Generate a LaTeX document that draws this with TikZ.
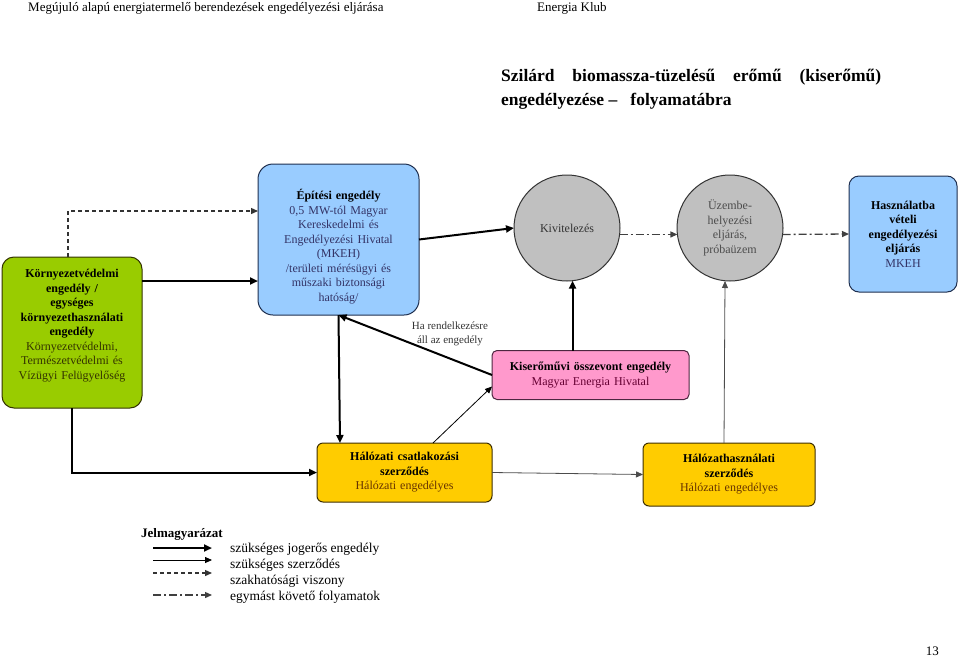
\documentclass[tikz,border=0pt]{standalone}
\usepackage{fontspec}
\setmainfont{Liberation Serif}
\usetikzlibrary{arrows.meta,positioning,calc}

\definecolor{envgreen}{HTML}{99CC00}
\definecolor{envtext}{HTML}{333300}
\definecolor{hatblue}{HTML}{99CCFF}
\definecolor{hattext}{HTML}{333366}
\definecolor{hatline}{HTML}{1F2F4F}
\definecolor{kivgray}{HTML}{C0C0C0}
\definecolor{mehpink}{HTML}{FF99CC}
\definecolor{mehtext}{HTML}{660033}
\definecolor{mehline}{HTML}{4D2640}
\definecolor{halyellow}{HTML}{FFCC00}
\definecolor{haltext}{HTML}{663300}
\definecolor{halline}{HTML}{3D2E00}

\tikzset{
  box/.style={draw, line width=1pt, align=center, inner sep=2pt, outer sep=0pt,
    font=\fontsize{12}{14.5}\selectfont},
  lepes/.style={circle, draw=black!80, line width=1pt, fill=kivgray, align=center,
    inner sep=0pt, outer sep=0pt, minimum size=106pt,
    font=\fontsize{12}{14.5}\selectfont},
  jog/.style={line width=2pt, -{Triangle[length=8pt,width=7pt]}},
  szerz/.style={line width=0.8pt, -{Triangle[length=7pt,width=6pt]}},
  szak/.style={line width=1.3pt, black!80, dash pattern=on 4pt off 3pt,
    -{Triangle[length=7pt,width=6pt]}},
  kovet/.style={line width=1.3pt, black!75, dash pattern=on 8pt off 3pt on 2pt off 3pt,
    -{Triangle[length=7pt,width=6pt]}}
}

\begin{document}
\begin{tikzpicture}[x=1pt, y=-1pt]
    \useasboundingbox (0,0) rectangle (960,656);

    % Header and title
    \node[anchor=base west, font=\fontsize{13}{14}\selectfont, inner sep=0pt] (head) at (28,11)
        {Megújuló alapú energiatermelő berendezések engedélyezési eljárása};
    \node[anchor=base west, font=\fontsize{13}{14}\selectfont, inner sep=0pt] (klub) at (537,11)
        {Energia Klub};
    \node[anchor=base west, font=\fontsize{17.5}{24}\selectfont\bfseries, align=left, inner sep=0pt] (title) at (501,105)
        {\hbox to 380pt{Szilárd\hfill biomassza-tüzelésű\hfill erőmű\hfill (kiserőmű)}\\
         engedélyezése –\ \ \ folyamatábra};

    % Environmental permit (green box on the left)
    \node[box, draw=envtext, fill=envgreen, rounded corners=12pt, text width=134pt,
          minimum width=140pt, minimum height=151pt] (korny) at (72,332.5)
        {\textbf{Környezetvédelmi\\engedély /\\egységes\\környezethasználati\\engedély}\\
         {\color{envtext}Környezetvédelmi,\\Természetvédelmi és\\Vízügyi Felügyelőség\rule[-16pt]{0pt}{0pt}}};

    % Building permit (blue box)
    \node[box, draw=hatline, fill=hatblue, rounded corners=15pt, text width=155pt,
          minimum width=161pt, minimum height=151pt] (epit) at (338.5,239.5)
        {\rule{0pt}{25pt}\textbf{Építési engedély}\\
         {\color{hattext}0,5 MW-tól Magyar\\Kereskedelmi és\\Engedélyezési Hivatal\\(MKEH)\\/területi mérésügyi és\\műszaki biztonsági\\hatóság/}};

    % Construction and commissioning (grey circles)
    \node[lepes, text=black!80] (kivit) at (567,228) {Kivitelezés};
    \node[lepes, text=black!70] (uzem) at (730,228) {Üzembe-\\helyezési\\eljárás,\\próbaüzem};

    % Operating permit (blue box on the right)
    \node[box, draw=hatline, fill=hatblue, rounded corners=10pt, text width=104pt,
          minimum width=108pt, minimum height=116pt] (haszn) at (903,234)
        {\textbf{Használatba\\vételi\\engedélyezési\\eljárás}\\{\color{hattext}MKEH}};

    % Small power plant licence (pink box)
    \node[box, draw=mehline, fill=mehpink, rounded corners=5pt, text width=193pt,
          minimum width=197pt, minimum height=49pt] (kiser) at (590.5,375)
        {\textbf{Kiserőművi összevont engedély}\\{\color{mehtext}Magyar Energia Hivatal}};

    % Grid contracts (yellow boxes)
    \node[box, draw=halline, fill=halyellow, rounded corners=6pt, text width=171pt,
          minimum width=175pt, minimum height=59pt] (csatl) at (404.5,472.5)
        {\textbf{Hálózati csatlakozási\\szerződés}\\{\color{haltext}Hálózati engedélyes}};
    \node[box, draw=halline, fill=halyellow, rounded corners=6pt, text width=168pt,
          minimum width=172pt, minimum height=63pt] (halhasz) at (729,474.5)
        {\textbf{Hálózathasználati\\szerződés}\\{\color{haltext}Hálózati engedélyes}};

    % Connectors
    \draw[szak] ($(korny.north)+(-4,0)$) |- (epit.west |- 0,211);
    \draw[jog] (korny.east |- 0,281) -- (epit.west |- 0,281);
    \draw[jog] (korny.south) |- (csatl.west);
    \draw[jog] (epit.east) -- (kivit.west);
    \draw[jog] (epit.south) -- ($(csatl.north west)+(23,0)$);
    \draw[jog] (kiser.west) -- (epit.south);
    \node[font=\fontsize{11}{14}\selectfont, text=black!80, align=center] (harend) at (450,334)
        {Ha rendelkezésre\\áll az engedély};
    \draw[jog] (kiser.north -| kivit.-84) -- (kivit.-84);
    \draw[szerz] ($(csatl.north west)+(116,0)$) -- ($(kiser.south west)+(0,-13)$);
    \draw[szerz, black!70] (csatl.east) -- (halhasz.west);
    \draw[szerz, black!70] ($(halhasz.north)+(-5,0)$) -- ($(uzem.south)+(-5,0)$);
    \draw[kovet] (kivit.-7) -- (uzem.187);
    \draw[kovet] (uzem.-7) -- (haszn.west);

    % Legend
    \node[anchor=base west, font=\fontsize{13}{16}\selectfont\bfseries, inner sep=0pt] (jelm) at (141,537) {Jelmagyarázat};
    \coordinate (l1a) at (153,548); \coordinate (l1b) at (212,548);
    \coordinate (l2a) at (153,560); \coordinate (l2b) at (212,560);
    \coordinate (l3a) at (153,573); \coordinate (l3b) at (212,573);
    \coordinate (l4a) at (153,595); \coordinate (l4b) at (212,595);
    \draw[jog] (l1a) -- (l1b);
    \draw[szerz] (l2a) -- (l2b);
    \draw[szak] (l3a) -- (l3b);
    \draw[kovet] (l4a) -- (l4b);
    \node[anchor=base west, font=\fontsize{13.5}{16}\selectfont, align=left, inner sep=0pt] (jelmtext) at (230,600)
        {szükséges jogerős engedély\\szükséges szerződés\\szakhatósági viszony\\egymást követő folyamatok};

    % Page number
    \node[anchor=base east, font=\fontsize{13}{14}\selectfont, inner sep=0pt] (oldal) at (939,655) {13};
\end{tikzpicture}
\end{document}
